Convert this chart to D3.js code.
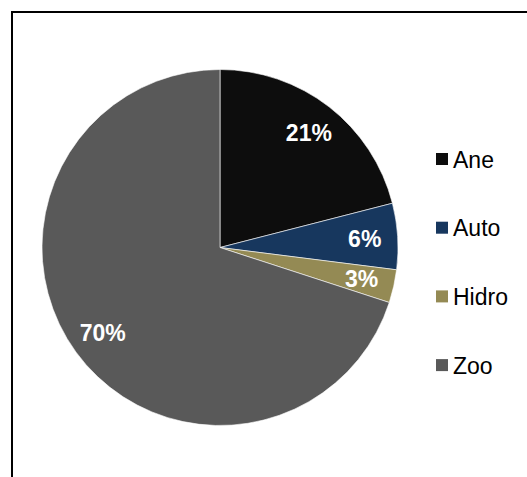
<!DOCTYPE html>
<html>
<head>
<meta charset="utf-8">
<script src="https://cdn.jsdelivr.net/npm/d3@7"></script>
<style>
  html, body { margin: 0; padding: 0; background: #fff; }
  svg { display: block; }
</style>
</head>
<body>
<svg id="chart" width="527" height="477"></svg>
<script>
// Share of dispersal syndromes
const categories = ["Ane", "Auto", "Hidro", "Zoo"];
const values = [21, 6, 3, 70];
const colors = ["#0d0d0d", "#17375e", "#948a54", "#595959"];

const svg = d3.select("#chart");
const font = "Arial, 'Liberation Sans', sans-serif";

// Frame around the chart area
svg.append("rect")
  .attr("x", 12).attr("y", 12)
  .attr("width", 700).attr("height", 700)
  .attr("fill", "none")
  .attr("stroke", "#000")
  .attr("stroke-width", 2);

const cx = 220, cy = 247.5, R = 178;
const data = categories.map((c, i) => ({ name: c, value: values[i], color: colors[i] }));

const pie = d3.pie().value(d => d.value).sort(null);
const arc = d3.arc().innerRadius(0).outerRadius(R);
const labelArc = d3.arc().innerRadius(145).outerRadius(145);

const g = svg.append("g").attr("transform", `translate(${cx},${cy})`);
const arcs = pie(data);

g.selectAll("path.slice")
  .data(arcs)
  .enter().append("path")
  .attr("class", "slice")
  .attr("d", arc)
  .attr("fill", d => d.data.color)
  .attr("stroke", "#ffffff")
  .attr("stroke-width", 0.6);

g.selectAll("text.pct")
  .data(arcs)
  .enter().append("text")
  .attr("class", "pct")
  .attr("transform", d => `translate(${labelArc.centroid(d)})`)
  .attr("text-anchor", "middle")
  .attr("dy", "0.36em")
  .attr("fill", "#fff")
  .attr("font-family", font)
  .attr("font-weight", "bold")
  .attr("font-size", "23px")
  .text(d => d.data.value + "%");

// Legend
const legend = svg.append("g").attr("transform", "translate(436,153)");
const rowStep = 68.7;
const rows = legend.selectAll("g.row")
  .data(data)
  .enter().append("g")
  .attr("class", "row")
  .attr("transform", (d, i) => `translate(0,${i * rowStep})`);

rows.append("rect")
  .attr("x", 0).attr("y", 0)
  .attr("width", 12).attr("height", 12)
  .attr("fill", d => d.color);

rows.append("text")
  .attr("x", 17)
  .attr("y", 14.5)
  .attr("font-family", font)
  .attr("font-size", "23px")
  .attr("fill", "#000")
  .text(d => d.name);
</script>
</body>
</html>
